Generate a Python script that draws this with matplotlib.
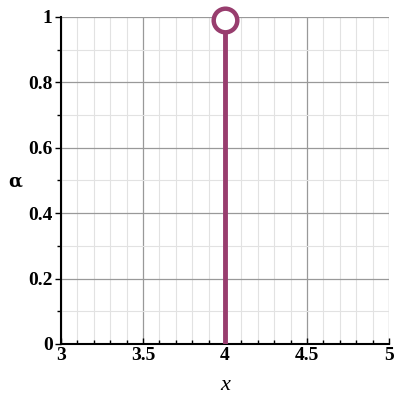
import matplotlib
matplotlib.use("Agg")
import matplotlib.pyplot as plt
from matplotlib.ticker import MultipleLocator, FuncFormatter

x_pos = [4.0, 4.0]
alpha_vals = [0.0, 0.99]
marker_x = [4.0]
marker_y = [0.99]
color = "#983d6e"

fig = plt.figure(figsize=(4, 4), dpi=100)
ax = fig.add_axes([0.1525, 0.14, 0.82, 0.8175])
ax.set_xlim(3, 5)
ax.set_ylim(0, 1)

ax.plot(x_pos, alpha_vals, color=color, lw=3.5, solid_capstyle="butt", zorder=3)
ax.plot(marker_x, marker_y, "o", ms=17, mfc="white", mec=color, mew=3.2, zorder=4, clip_on=False)

ax.xaxis.set_major_locator(MultipleLocator(0.5))
ax.xaxis.set_minor_locator(MultipleLocator(0.1))
ax.yaxis.set_major_locator(MultipleLocator(0.2))
ax.yaxis.set_minor_locator(MultipleLocator(0.1))

def fmt(v, pos):
    s = ("%.1f" % v).rstrip("0").rstrip(".")
    return s
ax.xaxis.set_major_formatter(FuncFormatter(fmt))
ax.yaxis.set_major_formatter(FuncFormatter(fmt))

ax.grid(which="major", color="#999999", lw=0.9)
ax.grid(which="minor", color="#e2e2e2", lw=0.8)
ax.set_axisbelow(True)

for s in ["top", "right"]:
    ax.spines[s].set_visible(False)
ax.spines["left"].set_linewidth(1.5)
ax.spines["bottom"].set_linewidth(1.5)

ax.tick_params(axis="both", which="major", length=4, width=1, labelsize=14, pad=2)
ax.tick_params(axis="both", which="minor", length=3, width=1)
ax.tick_params(axis="x", which="both", direction="in")
for lab in ax.get_xticklabels() + ax.get_yticklabels():
    lab.set_fontfamily("Liberation Serif")
    lab.set_fontweight("bold")

ax.set_xlabel("x", fontfamily="Liberation Serif", fontstyle="italic", fontsize=16, labelpad=9)
fig.text(0.038, 0.545, "α", fontfamily="DejaVu Serif", fontweight="bold", fontsize=13, ha="center", va="center")

fig.savefig("out.png", dpi=100)
